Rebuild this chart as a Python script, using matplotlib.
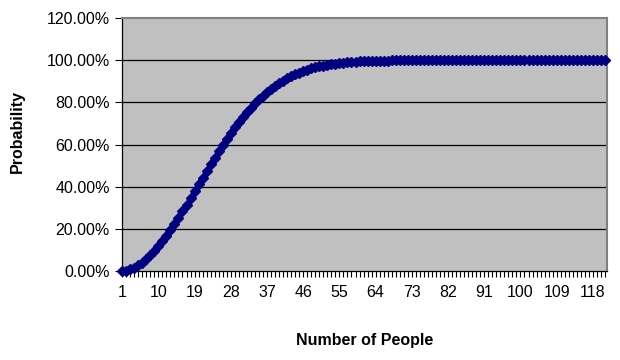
import numpy as np
import matplotlib.pyplot as plt
from matplotlib.ticker import FixedLocator, FuncFormatter

plt.rcParams['font.family'] = ['Liberation Sans', 'DejaVu Sans']

# probability that at least two people share a birthday
people = list(range(1, 122))
prob = [
    0.0000, 0.0027, 0.0082, 0.0164, 0.0271, 0.0405, 0.0562, 0.0743, 0.0946, 0.1169,
    0.1411, 0.1670, 0.1944, 0.2231, 0.2529, 0.2836, 0.3150, 0.3469, 0.3791, 0.4114,
    0.4437, 0.4757, 0.5073, 0.5383, 0.5687, 0.5982, 0.6269, 0.6545, 0.6810, 0.7063,
    0.7305, 0.7533, 0.7750, 0.7953, 0.8144, 0.8322, 0.8487, 0.8641, 0.8782, 0.8912,
    0.9032, 0.9140, 0.9239, 0.9329, 0.9410, 0.9483, 0.9548, 0.9606, 0.9658, 0.9704,
    0.9744, 0.9780, 0.9811, 0.9839, 0.9863, 0.9883, 0.9901, 0.9917, 0.9930, 0.9941,
    0.9951, 0.9959, 0.9966, 0.9972, 0.9977, 0.9981, 0.9984, 0.9987, 0.9990, 0.9992,
    0.9993, 0.9995, 0.9996, 0.9996, 0.9997, 0.9998, 0.9998, 0.9999, 0.9999, 0.9999,
    0.9999, 1.0000, 1.0000, 1.0000, 1.0000, 1.0000, 1.0000, 1.0000, 1.0000, 1.0000,
    1.0000, 1.0000, 1.0000, 1.0000, 1.0000, 1.0000, 1.0000, 1.0000, 1.0000, 1.0000,
    1.0000, 1.0000, 1.0000, 1.0000, 1.0000, 1.0000, 1.0000, 1.0000, 1.0000, 1.0000,
    1.0000, 1.0000, 1.0000, 1.0000, 1.0000, 1.0000, 1.0000, 1.0000, 1.0000, 1.0000,
    1.0000,
]
x_labels = list(range(1, 119, 9))
y_ticks = [0.0, 0.2, 0.4, 0.6, 0.8, 1.0, 1.2]

fig = plt.figure(figsize=(6.2, 3.6), dpi=100)
ax = fig.add_axes([0.197, 0.247, 0.782, 0.703])
ax.set_facecolor('#c0c0c0')

for y in y_ticks[1:-1]:
    ax.axhline(y, color='black', lw=0.9, zorder=1)

ax.plot(people, prob, color='#000080', marker='D', ms=5, lw=1.2, zorder=3, clip_on=False)

ax.set_xlim(1, 121.5)
ax.set_ylim(0, 1.2)
ax.xaxis.set_major_locator(FixedLocator(x_labels))
ax.xaxis.set_minor_locator(FixedLocator(people))
ax.set_yticks(y_ticks)
ax.yaxis.set_major_formatter(FuncFormatter(lambda v, p: '%.2f%%' % (v * 100)))
ax.tick_params(axis='x', which='both', direction='out', length=4, width=0.8, labelsize=11.5, pad=6)
ax.tick_params(axis='y', direction='out', length=5, width=0.8, labelsize=11.5, pad=4)

for side in ['left', 'bottom']:
    ax.spines[side].set_color('black')
    ax.spines[side].set_linewidth(0.9)
for side in ['top', 'right']:
    ax.spines[side].set_color('#808080')
    ax.spines[side].set_linewidth(1.5)

ax.set_xlabel('Number of People', fontsize=11.5, fontweight='bold', labelpad=24)
ax.set_ylabel('Probability', fontsize=11.5, fontweight='bold')
ax.yaxis.set_label_coords(-0.2, 0.551)

fig.savefig('out.png', dpi=100)
